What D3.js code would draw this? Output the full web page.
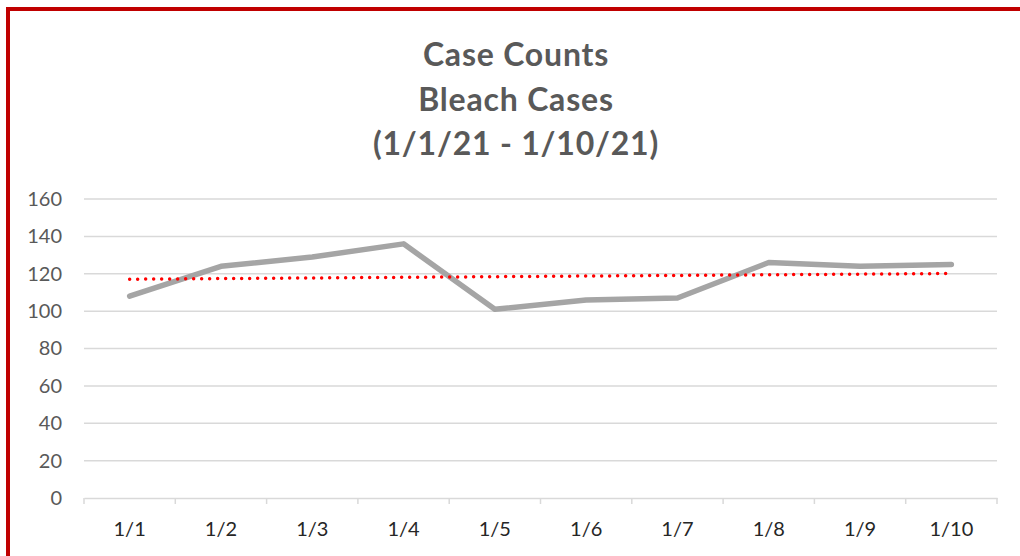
<!DOCTYPE html>
<html lang="en">
  <head>
    <meta charset="UTF-8" />
    <title>Case Counts</title>
    <style>
      body { margin: 0; background: #fff; }
      text { font-family: Lato, 'Open Sans', sans-serif; }
    </style>
  </head>
  <body>
    <script src="https://d3js.org/d3.v7.min.js"></script>
    <script>
      const categories = ['1/1', '1/2', '1/3', '1/4', '1/5', '1/6', '1/7', '1/8', '1/9', '1/10']
      const cases = [108, 124, 129, 136, 101, 106, 107, 126, 124, 125]
      const yTicks = [0, 20, 40, 60, 80, 100, 120, 140, 160]
      const titleLines = ['Case Counts', 'Bleach Cases', '(1/1/21 - 1/10/21)']

      const width = 1020
      const height = 556
      const padding = { top: 199, bottom: 58, left: 84, right: 23 }

      const svg = d3.select('body').append('svg')
        .attr('width', width).attr('height', height)

      // red frame, top and left only
      svg.append('path')
        .attr('d', `M8,${height} L8,9 L${width},9`)
        .attr('fill', 'none')
        .attr('stroke', '#C00000')
        .attr('stroke-width', 4)

      const x = d3.scaleBand()
        .domain(categories)
        .range([padding.left, width - padding.right])

      const y = d3.scaleLinear()
        .domain([0, 160])
        .range([height - padding.bottom, padding.top])

      // gridlines
      svg.append('g')
        .selectAll('line')
        .data(yTicks.filter(d => d > 0))
        .join('line')
        .attr('x1', padding.left)
        .attr('x2', width - padding.right)
        .attr('y1', d => y(d))
        .attr('y2', d => y(d))
        .attr('stroke', '#d9d9d9')
        .attr('stroke-width', 1.5)

      // y axis labels
      svg.append('g')
        .attr('transform', `translate(${padding.left - 22},0)`)
        .call(d3.axisLeft(y).tickValues(yTicks).tickSize(0).tickPadding(0))
        .call(g => g.select('.domain').remove())
        .call(g => g.selectAll('text')
          .attr('font-size', 20)
          .attr('fill', '#595959')
          .style('font-family', 'Lato, sans-serif'))

      // x axis
      const xAxis = svg.append('g')
        .attr('transform', `translate(0,${y(0)})`)
        .call(d3.axisBottom(x).tickSize(0).tickPadding(24).tickSizeOuter(0))
      xAxis.select('.domain')
        .attr('stroke', '#d9d9d9').attr('stroke-width', 1.5)
      xAxis.selectAll('text')
        .attr('font-size', 20)
        .attr('fill', '#262626')
        .style('font-family', 'Lato, sans-serif')

      const bounds = categories.map(c => x(c)).concat([x(categories[categories.length - 1]) + x.bandwidth()])
      svg.append('g')
        .selectAll('line')
        .data(bounds)
        .join('line')
        .attr('x1', d => d).attr('x2', d => d)
        .attr('y1', y(0)).attr('y2', y(0) + 6)
        .attr('stroke', '#d9d9d9')
        .attr('stroke-width', 1.5)

      const cx = (d, i) => x(categories[i]) + x.bandwidth() / 2

      // data line
      svg.append('path')
        .datum(cases)
        .attr('fill', 'none')
        .attr('stroke', '#A5A5A5')
        .attr('stroke-width', 5.5)
        .attr('stroke-linecap', 'round')
        .attr('stroke-linejoin', 'round')
        .attr('d', d3.line().x(cx).y(d => y(d)))

      // linear trendline (least squares), as Excel draws it
      const n = cases.length
      const mx = d3.mean(d3.range(n))
      const my = d3.mean(cases)
      const slope = d3.sum(cases, (v, i) => (i - mx) * (v - my)) / d3.sum(d3.range(n), i => (i - mx) ** 2)
      const trend = cases.map((v, i) => my + slope * (i - mx))

      svg.append('path')
        .datum(trend)
        .attr('fill', 'none')
        .attr('stroke', '#FF0000')
        .attr('stroke-width', 3.5)
        .attr('stroke-linecap', 'round')
        .attr('stroke-dasharray', '0 8')
        .attr('d', d3.line().x(cx).y(d => y(d)))

      // title
      svg.append('text')
        .attr('x', 516)
        .attr('y', 66)
        .attr('text-anchor', 'middle')
        .attr('font-size', 32)
        .attr('font-weight', 'bold')
        .attr('letter-spacing', 0.8)
        .attr('fill', '#595959')
        .selectAll('tspan')
        .data(titleLines)
        .join('tspan')
        .attr('x', 516)
        .attr('dy', (d, i) => i === 0 ? 0 : 44.5)
        .text(d => d)
    </script>
  </body>
</html>
